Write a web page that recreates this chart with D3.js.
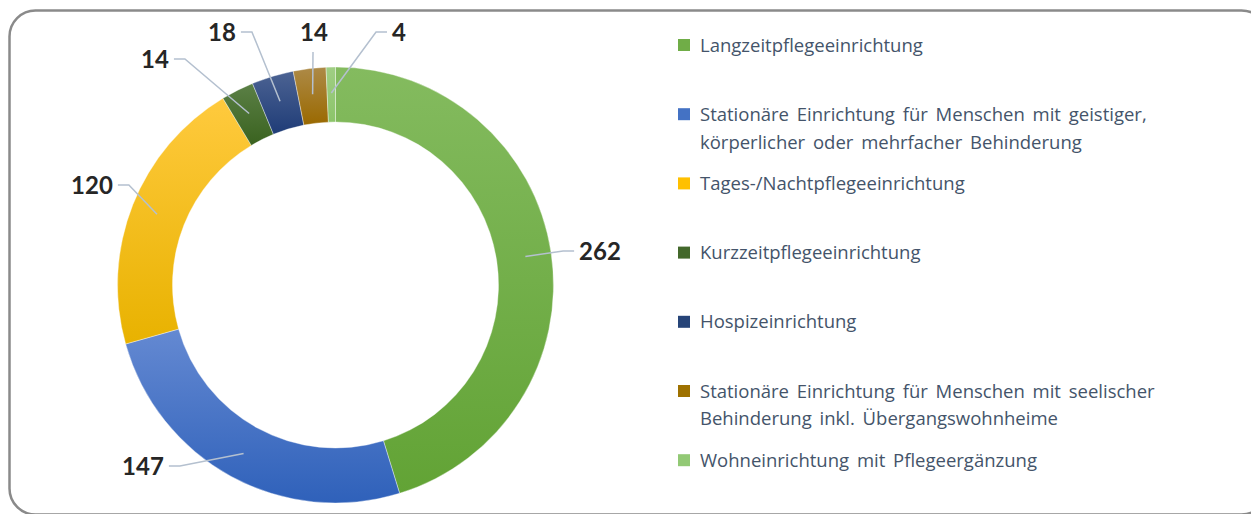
<!DOCTYPE html>
<html>
<head>
<meta charset="utf-8">
<script src="https://cdn.jsdelivr.net/npm/d3@7"></script>
<style>
  body { margin: 0; background: #fff; }
  svg { display: block; }
</style>
</head>
<body>
<svg id="chart" width="1251" height="514"></svg>
<script>
// data
const categories = [
    "Langzeitpflegeeinrichtung",
    "Stationäre Einrichtung für Menschen mit geistiger,\nkörperlicher oder mehrfacher Behinderung",
    "Tages-/Nachtpflegeeinrichtung",
    "Kurzzeitpflegeeinrichtung",
    "Hospizeinrichtung",
    "Stationäre Einrichtung für Menschen mit seelischer\nBehinderung inkl. Übergangswohnheime",
    "Wohneinrichtung mit Pflegeergänzung"
];
const values = [262, 147, 120, 14, 18, 14, 4];

// colours (top / bottom of the gradient)
const colorsTop = ["#84bb5f", "#6489d2", "#ffca3e", "#5b8046", "#4c6393", "#ad8a47", "#a0ce84"];
const colorsBottom = ["#62a335", "#2f61ba", "#e8b200", "#3a621f", "#1f3c77", "#9a6900", "#8cc46a"];
const colorsLegend = ["#70ad47", "#4472c4", "#ffc000", "#43682b", "#264478", "#9e7100", "#92c975"];

// label layout: [x, y, side of the leader line]
const labelLayout = [
    [600, 251, "left"],
    [143, 466, "right"],
    [92, 185, "right"],
    [155, 59, "right"],
    [222, 32, "right"],
    [314, 32, "bottom"],
    [399, 32, "left"]
];

const svg = d3.select("#chart");
const cx = 335.5, cy = 285;
const outerR = 218, innerR = 163, midR = 192;

// frame
svg.append("rect")
    .attr("x", 9.5).attr("y", 10.5)
    .attr("width", 1258).attr("height", 504)
    .attr("rx", 26).attr("ry", 26)
    .attr("fill", "none")
    .attr("stroke", "#8a8a8a")
    .attr("stroke-width", 2.5);

const defs = svg.append("defs");
values.forEach((v, i) => {
    const grad = defs.append("linearGradient")
        .attr("id", "grad" + i)
        .attr("x1", 0).attr("y1", 0).attr("x2", 0).attr("y2", 1);
    grad.append("stop").attr("offset", "0%").attr("stop-color", colorsTop[i]);
    grad.append("stop").attr("offset", "100%").attr("stop-color", colorsBottom[i]);
});

const pie = d3.pie().sort(null).value(d => d);
const arcs = pie(values);
const arc = d3.arc().innerRadius(innerR).outerRadius(outerR);
const midArc = d3.arc().innerRadius(midR).outerRadius(midR);

const g = svg.append("g").attr("transform", `translate(${cx},${cy})`);

g.selectAll("path.slice").data(arcs).enter().append("path")
    .attr("class", "slice")
    .attr("d", arc)
    .attr("fill", (d, i) => `url(#grad${i})`)
    .attr("stroke", "rgba(255,255,255,0.5)")
    .attr("stroke-width", 0.75);

// leader lines + labels
const labelFont = "Lato, 'Open Sans', sans-serif";
arcs.forEach((d, i) => {
    const [lx, ly, side] = labelLayout[i];
    const c = midArc.centroid(d);
    const px = cx + c[0], py = cy + c[1];
    const txt = svg.append("text")
        .attr("x", lx).attr("y", ly)
        .attr("dy", "0.36em")
        .attr("text-anchor", "middle")
        .style("font-family", labelFont)
        .style("font-weight", "bold")
        .style("font-size", "24px")
        .style("fill", "#262626")
        .text(values[i]);
    const w = txt.node().getComputedTextLength();
    let pts;
    if (side === "left") {
        const sx = lx - w / 2 - 5;
        pts = [[sx, ly], [sx - 11, ly], [px, py]];
    } else if (side === "right") {
        const sx = lx + w / 2 + 5;
        pts = [[sx, ly], [sx + 11, ly], [px, py]];
    } else {
        pts = [[lx - 1, ly + 20], [px, py]];
    }
    svg.insert("path", "text")
        .attr("d", d3.line()(pts))
        .attr("fill", "none")
        .attr("stroke", "#b4c0cf")
        .attr("stroke-width", 1.5);
});

// legend
const legend = svg.append("g");
categories.forEach((name, i) => {
    const y = 45 + i * 69.2;
    legend.append("rect")
        .attr("x", 678).attr("y", y - 6)
        .attr("width", 12).attr("height", 12)
        .attr("fill", colorsLegend[i]);
    const t = legend.append("text")
        .attr("x", 700).attr("y", y)
        .style("font-family", "'Open Sans', sans-serif")
        .style("font-size", "18.5px")
        .style("word-spacing", "3px")
        .style("fill", "#44546a");
    name.split("\n").forEach((line, j) => {
        t.append("tspan").attr("x", 700).attr("dy", j === 0 ? "0.36em" : "1.5em").text(line);
    });
});
</script>
</body>
</html>
